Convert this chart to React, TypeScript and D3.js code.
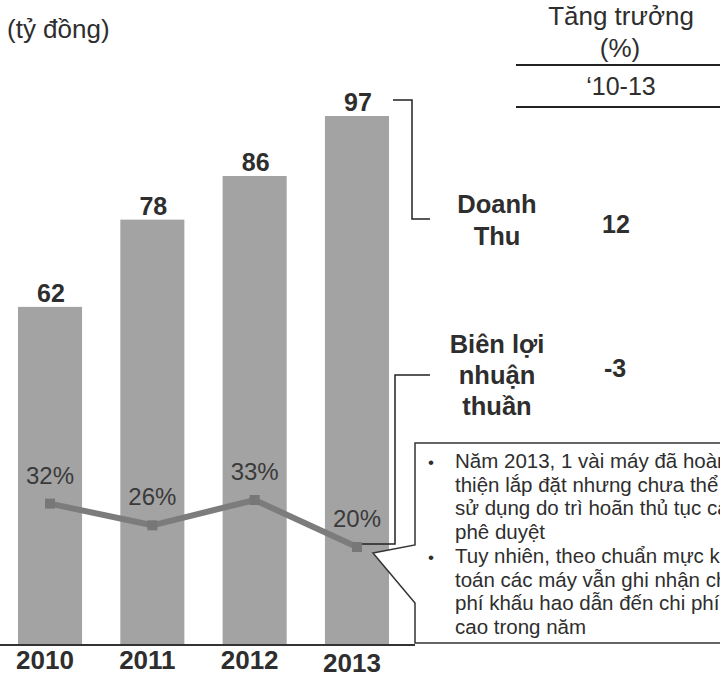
import React from "react";
import * as d3 from "d3";

const years = ["2010", "2011", "2012", "2013"];
const revenue = [62, 78, 86, 97];
const margin = [32, 26, 33, 20];
const growthHeader = ["Tăng trưởng", "(%)"];
const growthPeriod = "‘10-13";
const seriesLabels = [["Doanh", "Thu"], ["Biên lợi", "nhuận", "thuần"]];
const growthValues = ["12", "-3"];
const notes = [
  ["Năm 2013, 1 vài máy đã hoàn", "thiện lắp đặt nhưng chưa thể", "sử dụng do trì hoãn thủ tục cấp", "phê duyệt"],
  ["Tuy nhiên, theo chuẩn mực kế", "toán các máy vẫn ghi nhận chi", "phí khấu hao dẫn đến chi phí", "cao trong năm"],
];
const unitLabel = "(tỷ đồng)";

const W = 720;
const H = 677;
const FONT = "'Liberation Sans', Arial, sans-serif";
const TXT = "#2e2e2e";

export default function App() {
  const x = d3.scaleBand().domain(years).range([0, 407]).paddingInner(0.374).paddingOuter(0.176);
  const y = d3.scaleLinear().domain([0, 97]).range([645, 116]);
  const ym = d3.scaleLinear().domain([20, 33]).range([547, 500]);
  const cx = (yr: string) => (x(yr) as number) + x.bandwidth() / 2;

  const line = d3
    .line<number>()
    .x((_, i) => cx(years[i]))
    .y((d) => ym(d));

  const lastX = cx(years[3]);
  const lastY = ym(margin[3]);
  const topY = y(revenue[3]);

  const noteLines: { text: string; bullet: boolean }[] = [];
  notes.forEach((n) => n.forEach((t, i) => noteLines.push({ text: t, bullet: i === 0 })));

  return (
    <svg width={W} height={H} style={{ position: "absolute", left: 0, top: 0, background: "#fff" }} fontFamily={FONT}>
      <rect x={0} y={0} width={W} height={H} fill="#fff" />
      <text x={7} y={38} fontSize={26} fill={TXT}>{unitLabel}</text>

      {/* header on right */}
      <text x={621} y={25} fontSize={26} fill={TXT} textAnchor="middle">{growthHeader[0]}</text>
      <text x={620} y={57} fontSize={26} fill={TXT} textAnchor="middle">{growthHeader[1]}</text>
      <line x1={516} x2={720} y1={65} y2={65} stroke="#222" strokeWidth={2} />
      <text x={621} y={95} fontSize={25} fill={TXT} textAnchor="middle">{growthPeriod}</text>
      <line x1={516} x2={720} y1={107} y2={107} stroke="#222" strokeWidth={2} />

      {/* bars */}
      {years.map((yr, i) => (
        <g key={yr}>
          <rect x={x(yr)} y={y(revenue[i])} width={x.bandwidth()} height={y(0) - y(revenue[i])} fill="#a3a3a3" />
          <text x={cx(yr) + 1} y={y(revenue[i]) - 5} fontSize={25} fontWeight="bold" fill={TXT} textAnchor="middle">
            {revenue[i]}
          </text>
          <text x={cx(yr) - 5} y={i === 3 ? 672 : 669} fontSize={26} fontWeight="bold" fill={TXT} textAnchor="middle">
            {yr}
          </text>
        </g>
      ))}
      <line x1={0} x2={415} y1={y(0)} y2={y(0)} stroke="#333" strokeWidth={2} />

      {/* margin line */}
      <path d={line(margin) || ""} fill="none" stroke="#7c7c7c" strokeWidth={6} strokeLinejoin="round" />
      {margin.map((m, i) => (
        <g key={i}>
          <rect x={cx(years[i]) - 5} y={ym(m) - 5} width={10} height={10} fill="#777" />
          <text x={cx(years[i])} y={ym(m) - 20} fontSize={24} fill="#3a3a3a" textAnchor="middle">
            {m}%
          </text>
        </g>
      ))}

      {/* brackets */}
      <polyline
        points={`393,${topY - 16} 412,${topY - 16} 412,219 430,219`}
        fill="none"
        stroke="#222"
        strokeWidth={1.5}
      />
      <polyline
        points={`430,375 395,375 395,${lastY - 3} ${lastX + 5},${lastY - 3}`}
        fill="none"
        stroke="#222"
        strokeWidth={1.5}
      />

      {/* series labels */}
      {seriesLabels[0].map((t, i) => (
        <text key={t} x={497} y={213 + i * 32} fontSize={25.5} fontWeight="bold" fill={TXT} textAnchor="middle">{t}</text>
      ))}
      <text x={616} y={233} fontSize={25} fontWeight="bold" fill={TXT} textAnchor="middle">{growthValues[0]}</text>
      {seriesLabels[1].map((t, i) => (
        <text key={t} x={497} y={353 + i * 31} fontSize={25.5} fontWeight="bold" fill={TXT} textAnchor="middle">{t}</text>
      ))}
      <text x={615} y={377} fontSize={25} fontWeight="bold" fill={TXT} textAnchor="middle">{growthValues[1]}</text>

      {/* callout */}
      <path
        d={`M415,545 L415,443 L722,443 L722,643 L415,643 L415,603 L${lastX + 16},${lastY + 6} Z`}
        fill="#fff"
        stroke="#333"
        strokeWidth={1.5}
      />
      {noteLines.map((l, i) => (
        <g key={i}>
          {l.bullet && (
            <text x={428} y={468 + i * 23.7} fontSize={17} fill={TXT}>•</text>
          )}
          <text x={455} y={468 + i * 23.7} fontSize={20.5} fill={TXT}>{l.text}</text>
        </g>
      ))}
    </svg>
  );
}
